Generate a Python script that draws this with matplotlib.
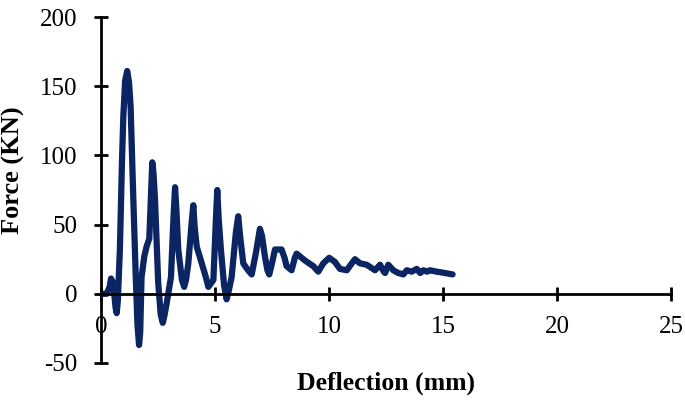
import matplotlib
matplotlib.use("Agg")
import matplotlib.pyplot as plt

# force-deflection readings (mm, kN)
deflection = [0.0, 0.25, 0.38, 0.44, 0.50, 0.56, 0.64, 0.69, 0.74, 0.83, 0.92, 0.98,
              1.06, 1.15, 1.23, 1.30, 1.42, 1.52, 1.60, 1.67, 1.72, 1.78, 1.90, 2.00,
              2.12, 2.19, 2.25, 2.30, 2.37, 2.51, 2.62, 2.71, 2.78, 2.88, 3.07, 3.18,
              3.25, 3.31, 3.39, 3.55, 3.65, 3.73, 3.83, 3.98, 4.05, 4.11, 4.20, 4.42,
              4.60, 4.71, 4.93, 5.03, 5.10, 5.16, 5.26, 5.40, 5.51, 5.60, 5.73, 5.92,
              6.02, 6.10, 6.24, 6.45, 6.61, 6.80, 6.97, 7.06, 7.19, 7.30, 7.38, 7.50,
              7.63, 7.92, 8.05, 8.14, 8.36, 8.50, 8.58, 8.95, 9.31, 9.53, 9.75, 10.01,
              10.26, 10.48, 10.78, 11.00, 11.14, 11.36, 11.65, 12.02, 12.24, 12.40,
              12.46, 12.60, 12.82, 13.04, 13.26, 13.41, 13.63, 13.85, 14.00, 14.14,
              14.30, 14.43, 14.72, 15.09, 15.42]
force = [0, 0, 5, 11, 9, 4, -10, -14, -5, 32, 95, 128,
         154, 161, 153, 135, 68, 15, -22, -37, -28, 12, 27, 34,
         40, 70, 95, 88, 68, 8, -15, -21, -16, -7, 12, 55,
         77, 60, 32, 10, 5, 10, 22, 52, 64, 48, 34, 22,
         12, 5, 10, 50, 75, 55, 32, 6, -4, 2, 12, 45,
         56, 42, 22, 17, 14, 30, 47, 42, 27, 17, 14, 22,
         32, 32, 26, 20, 17, 26, 29, 24, 20, 16, 22, 26,
         23, 18, 17, 22, 25, 22, 21, 17, 21, 16,
         15, 21, 17, 15, 14, 17, 16, 18, 15, 17,
         16, 17, 16, 15, 14]

xticks = [0, 5, 10, 15, 20, 25]
yticks = [-50, 0, 50, 100, 150, 200]

plt.rcParams['font.family'] = ['Liberation Serif', 'DejaVu Serif']
plt.rcParams['axes.unicode_minus'] = False

fig = plt.figure(figsize=(6.85, 4.03), dpi=100)
ax = fig.add_axes([0.1474, 0.0993, 0.8322, 0.8585])

ax.plot(deflection, force, color='#0b2462', lw=4.5, solid_joinstyle='round',
        solid_capstyle='round')

ax.set_xlim(0, 25)
ax.set_ylim(-50, 200)
ax.set_xticks(xticks)
ax.set_yticks(yticks)

ax.spines['top'].set_visible(False)
ax.spines['right'].set_visible(False)
ax.spines['left'].set_position(('data', 0))
ax.spines['bottom'].set_position(('data', 0))
for s in ['left', 'bottom']:
    ax.spines[s].set_linewidth(2)

ax.tick_params(axis='both', direction='inout', length=10, width=2, labelsize=18)
ax.tick_params(axis='x', pad=11)
ax.tick_params(axis='y', pad=12)

ax.set_xlabel('Deflection (mm)', fontsize=18.5, fontweight='bold')
ax.set_ylabel('Force (KN)', fontsize=19, fontweight='bold')
ax.xaxis.set_label_coords(0.5, -0.058)
ax.xaxis.label.set_verticalalignment('center')
ax.yaxis.set_label_coords(-0.153, 0.558)
ax.yaxis.label.set_verticalalignment('center')

fig.savefig('out.png', dpi=100)
